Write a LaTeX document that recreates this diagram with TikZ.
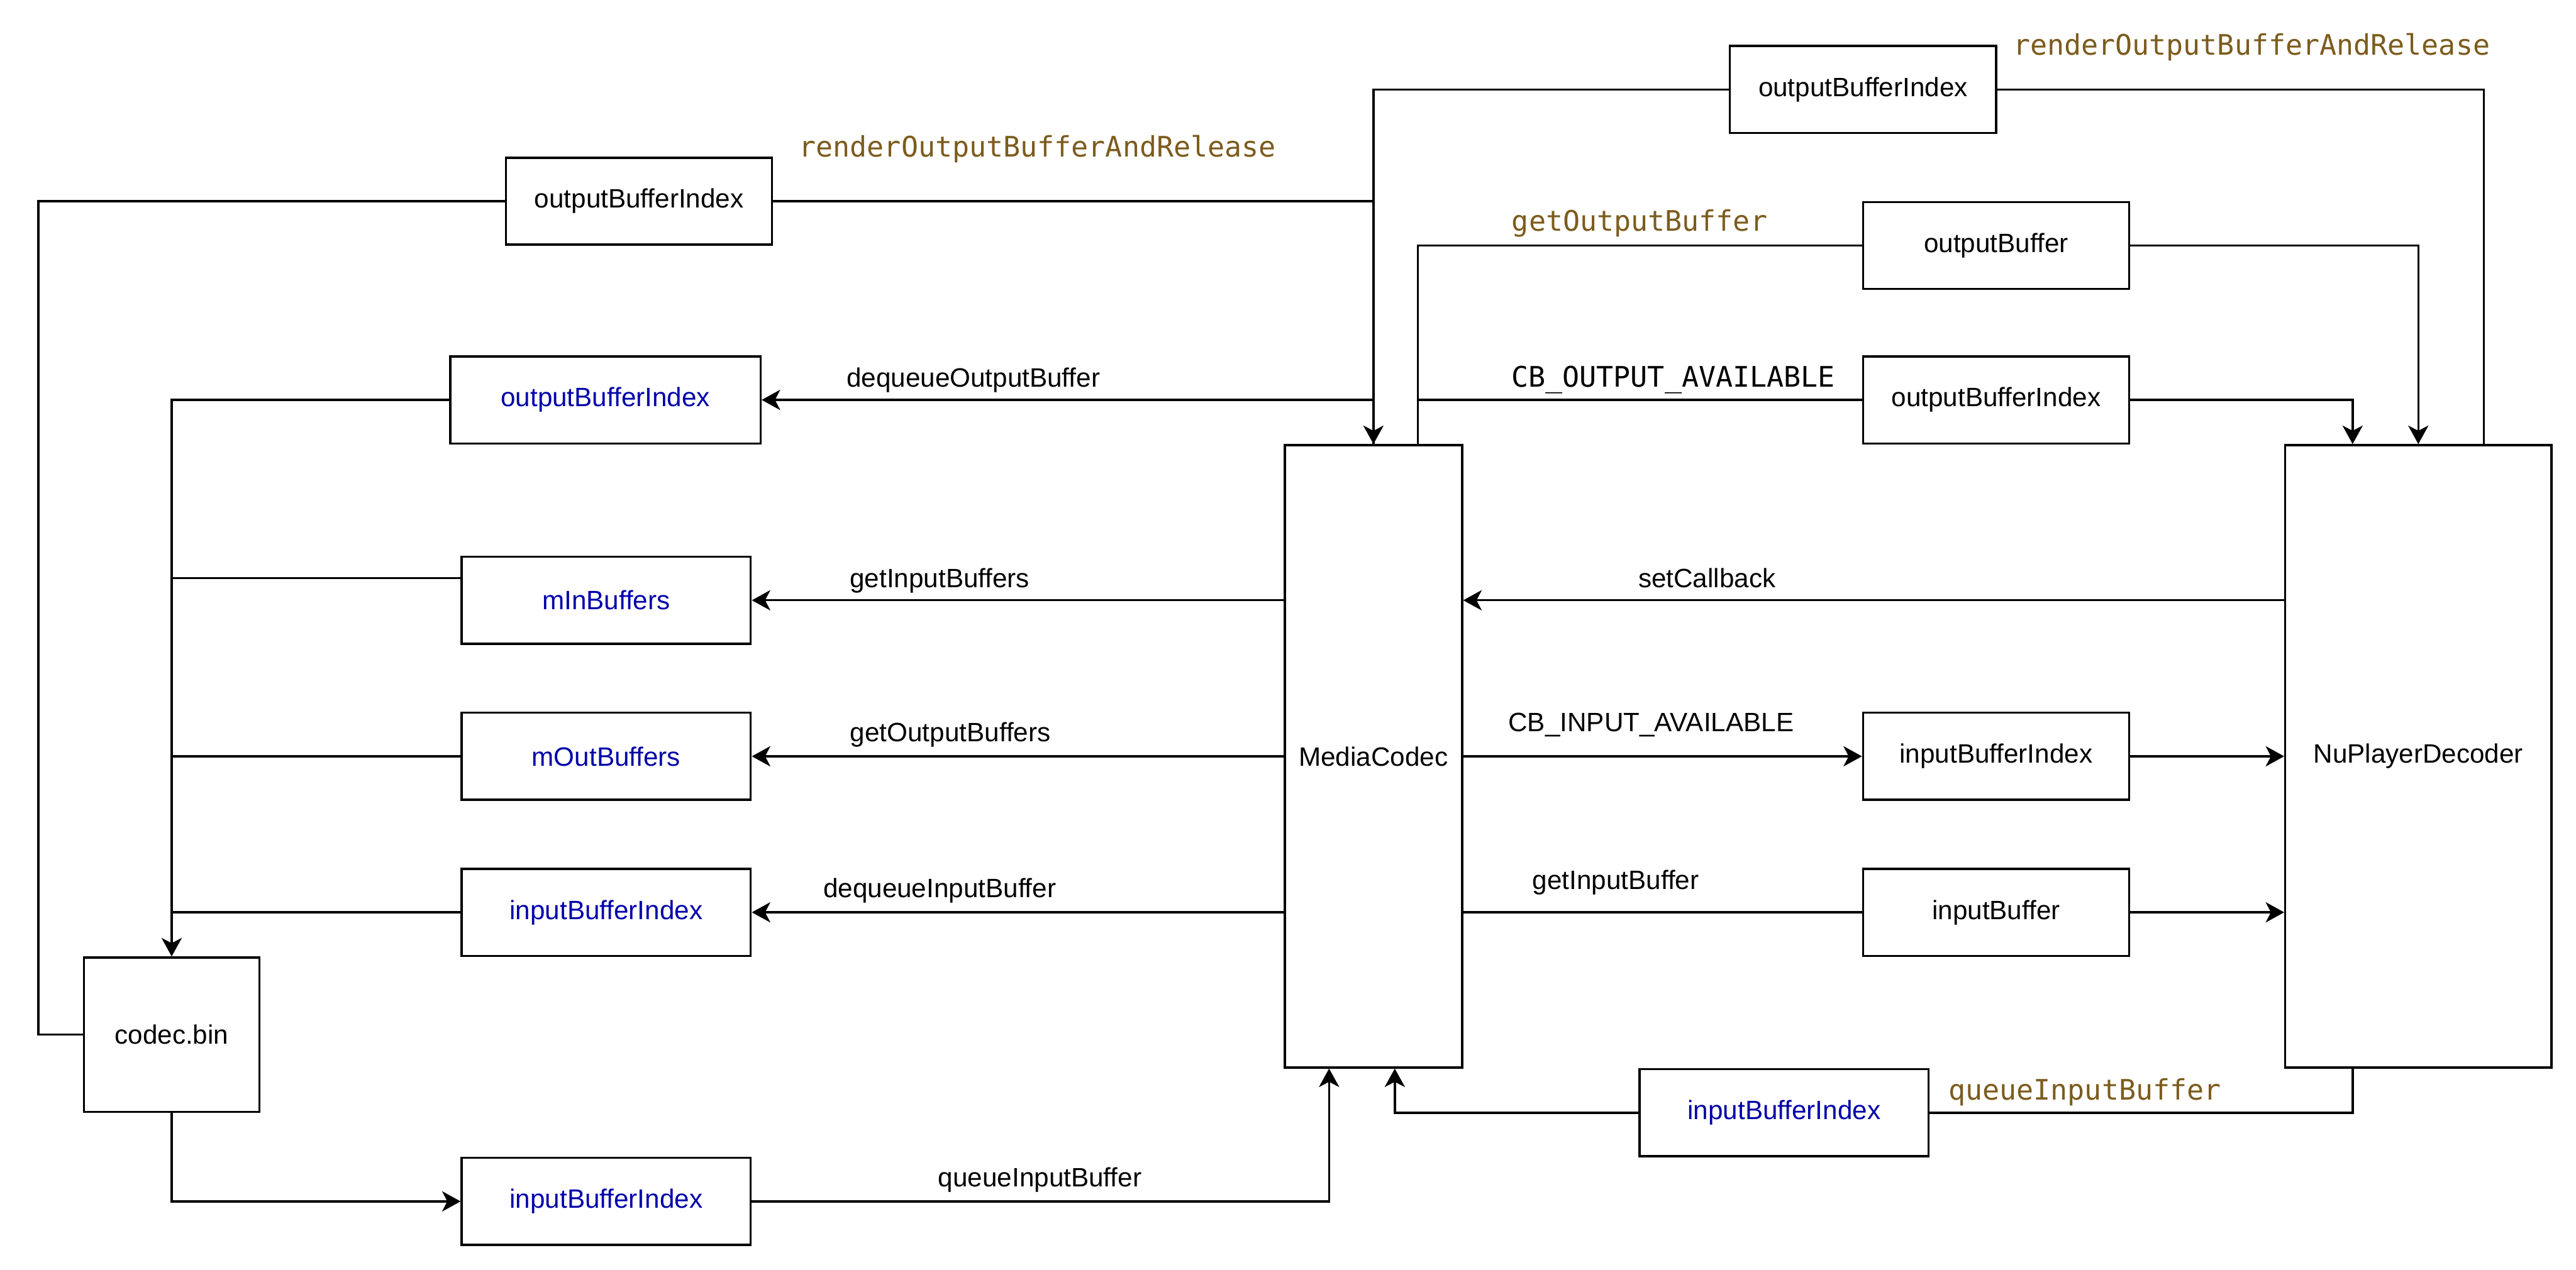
\documentclass[tikz,border=0pt]{standalone}
\usepackage{fontspec}
\setmainfont{Liberation Sans}
\newfontfamily\codefont{DejaVu Sans Mono}
\usetikzlibrary{arrows.meta}
\definecolor{idxblue}{RGB}{0,0,170}
\definecolor{callbrown}{RGB}{124,92,30}

\begin{document}
\begin{tikzpicture}[x=0.02cm, y=-0.02cm, line width=0.75pt,
  >={Stealth[length=6.4pt,width=7pt,inset=1.8pt]},
  blk/.style={draw, fill=white, inner sep=0pt, minimum width=3.24cm, minimum height=1.06cm,
    font=\fontsize{9.2}{11}\selectfont},
  idx/.style={blk, text=idxblue, minimum width=3.52cm},
  lbl/.style={inner sep=0pt, text height=0.72em, text depth=0.2em, font=\fontsize{9.2}{11}\selectfont},
  code/.style={lbl, font=\codefont\fontsize{9.8}{11}\selectfont},
  call/.style={code, text=callbrown}]

% --- Рамка ---
\useasboundingbox (0,0) rectangle (1568,773);

% --- Блоки ---
\node[blk, minimum width=2.16cm, minimum height=7.58cm] (mc) at (836,460.5) {MediaCodec};
\node[blk, minimum height=7.58cm] (np) at (1472,460.5) {NuPlayerDecoder};
\node[blk, minimum width=2.14cm, minimum height=1.88cm] (cb) at (104.5,630) {codec.bin};

\node[blk] (ot1) at (389,122.5) {outputBufferIndex};
\node[blk] (ot2) at (1134,54.5) {outputBufferIndex};
\node[blk] (ob) at (1215,149.5) {outputBuffer};
\node[blk] (oir) at (1215,243.5) {outputBufferIndex};
\node[blk] (iir) at (1215,460.5) {inputBufferIndex};
\node[blk] (ib) at (1215,555.5) {inputBuffer};

\node[idx, minimum width=3.78cm] (oil) at (368.5,243.5) {outputBufferIndex};
\node[idx] (mib) at (369,365.5) {mInBuffers};
\node[idx] (mob) at (369,460.5) {mOutBuffers};
\node[idx] (iil) at (369,555.5) {inputBufferIndex};
\node[idx] (iib) at (369,731.5) {inputBufferIndex};
\node[idx] (iiq) at (1086,677.5) {inputBufferIndex};

% --- renderOutputBufferAndRelease ---
\draw (cb.west) -- ++(-27,0) |- (ot1.west);
\draw[->] (ot1.east) -| (mc.north);
\draw (ot2.west) -| (mc.north);
\draw (ot2.east) -| ([xshift=0.8cm]np.north);

% --- getOutputBuffer / CB_OUTPUT_AVAILABLE ---
\draw ([xshift=0.54cm]mc.north) |- (ob.west);
\draw[->] (ob.east) -| (np.north);
\draw ([xshift=0.54cm]mc.north) |- (oir.west);
\draw[->] (oir.east) -| ([xshift=-0.8cm]np.north);

% --- MediaCodec -> слева ---
\draw[->] (mc.north) |- (oil.east);
\draw[->] (mc.west |- mib) -- (mib.east);
\draw[->] (mc.west |- mob) -- (mob.east);
\draw[->] (mc.west |- iil) -- (iil.east);

% --- слева -> codec.bin ---
\draw[->] (oil.west) -| (cb.north);
\draw ([yshift=0.27cm]mib.west) -- ([yshift=0.27cm]mib.west -| cb.north);
\draw (mob.west) -- (mob.west -| cb.north);
\draw (iil.west) -- (iil.west -| cb.north);

% --- queueInputBuffer ---
\draw[->] (cb.south) |- (iib.west);
\draw[->] (iib.east) -| ([xshift=-0.54cm]mc.south);
\draw ([xshift=-0.8cm]np.south) |- (iiq.east);
\draw[->] (iiq.west) -| ([xshift=0.26cm]mc.south);

% --- MediaCodec <-> NuPlayerDecoder ---
\draw[->] (np.west |- mib) -- (mc.east |- mib);
\draw[->] (mc.east |- iir) -- (iir.west);
\draw[->] (iir.east) -- (np.west |- iir);
\draw (mc.east |- ib) -- (ib.west);
\draw[->] (ib.east) -- (np.west |- ib);

% --- Подписи ---
\node[call] (l1) at (631.5,91) {renderOutputBufferAndRelease};
\node[call] (l2) at (1370.5,29) {renderOutputBufferAndRelease};
\node[call] (l3) at (998,136) {getOutputBuffer};
\node[code] (l4) at (1018.5,231) {CB\_OUTPUT\_AVAILABLE};
\node[lbl] (l5) at (592.5,231) {dequeueOutputBuffer};
\node[lbl] (l6) at (572,353) {getInputBuffers};
\node[lbl] (l7) at (578.5,447) {getOutputBuffers};
\node[lbl] (l8) at (572,542) {dequeueInputBuffer};
\node[lbl] (l9) at (633,718) {queueInputBuffer};
\node[lbl] (l10) at (1039,353) {setCallback};
\node[lbl] (l11) at (1005,441) {CB\_INPUT\_AVAILABLE};
\node[lbl] (l12) at (983.5,537) {getInputBuffer};
\node[call] (l13) at (1269,665) {queueInputBuffer};

\end{tikzpicture}
\end{document}
